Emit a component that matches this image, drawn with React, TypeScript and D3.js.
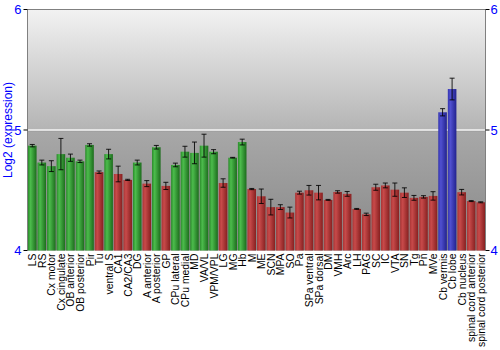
import React from "react";
import * as d3 from "d3";

const categories = ["LS","RS","Cx motor","Cx cingulate","OB anterior","OB posterior","Pir","Tu","ventral S","CA1","CA2/CA3","DG","A anterior","A posterior","GP","CPu lateral","CPu medial","MD","VA/VL","VPM/VPL","LG","MG","Hb","M","ME","SCN","MPA","SO","Pa","SPa ventral","SPa dorsal","DM","VMH","Arc","LH","PAG","SC","IC","VTA","SN","Tg","Pn","MVe","Cb vermis","Cb lobe","Cb nucleus","spinal cord anterior","spinal cord posterior"];
const values = [4.87,4.73,4.70,4.80,4.77,4.74,4.876,4.65,4.80,4.635,4.586,4.73,4.555,4.857,4.536,4.71,4.82,4.81,4.87,4.82,4.56,4.77,4.90,4.51,4.45,4.36,4.36,4.315,4.48,4.50,4.48,4.42,4.486,4.47,4.345,4.30,4.525,4.54,4.505,4.48,4.437,4.445,4.453,5.147,5.34,4.484,4.41,4.40];
const errors = [0.01,0.02,0.045,0.13,0.03,0.01,0.01,0.01,0.04,0.065,0.005,0.02,0.025,0.015,0.03,0.015,0.045,0.09,0.095,0.017,0.035,0.003,0.024,0.005,0.06,0.065,0.02,0.045,0.012,0.04,0.06,0.004,0.01,0.02,0.004,0.01,0.025,0.02,0.055,0.04,0.02,0.01,0.035,0.03,0.09,0.023,0.004,0.004];
const groups = ["g","g","g","g","g","g","g","r","g","r","r","g","r","g","r","g","g","g","g","g","r","g","g","r","r","r","r","r","r","r","r","r","r","r","r","r","r","r","r","r","r","r","r","b","b","r","r","r"];
const yTicks = [4, 5, 6];

const W = 500, H = 350;
const left = 27.5, right = 485.5, top = 9.5, bottom = 250.5;

export default function App() {
  const x = d3.scaleBand<string>().domain(categories).range([left, right]).paddingInner(0.1).paddingOuter(0.05);
  const y = d3.scaleLinear().domain([4, 6]).range([bottom, top]);
  const bw = x.bandwidth();
  const fill: Record<string, string> = { g: "url(#gGreen)", r: "url(#gRed)", b: "url(#gBlue)" };
  return (
    <svg width={W} height={H} style={{ position: "absolute", left: 0, top: 0 }} fontFamily="'Liberation Sans', Arial, sans-serif">
      <defs>
        <linearGradient id="bgTop" x1="0" y1="0" x2="0" y2="1">
          <stop offset="0" stopColor="#f2f2f2" />
          <stop offset="1" stopColor="#b4b4b4" />
        </linearGradient>
        <linearGradient id="bgBot" x1="0" y1="0" x2="0" y2="1">
          <stop offset="0" stopColor="#a8a8a8" />
          <stop offset="1" stopColor="#888888" />
        </linearGradient>
        <linearGradient id="gGreen" x1="0" y1="0" x2="1" y2="0">
          <stop offset="0" stopColor="#2a8a2a" />
          <stop offset="0.3" stopColor="#4cbc4c" />
          <stop offset="1" stopColor="#1c6c1c" />
        </linearGradient>
        <linearGradient id="gRed" x1="0" y1="0" x2="1" y2="0">
          <stop offset="0" stopColor="#a83434" />
          <stop offset="0.3" stopColor="#c84a4a" />
          <stop offset="1" stopColor="#862020" />
        </linearGradient>
        <linearGradient id="gBlue" x1="0" y1="0" x2="1" y2="0">
          <stop offset="0" stopColor="#3434b0" />
          <stop offset="0.3" stopColor="#5050d0" />
          <stop offset="1" stopColor="#22228e" />
        </linearGradient>
      </defs>
      <rect x={left} y={y(6)} width={right - left} height={y(5) - y(6)} fill="url(#bgTop)" />
      <rect x={left} y={y(5)} width={right - left} height={y(4) - y(5)} fill="url(#bgBot)" />
      <line x1={left} x2={right} y1={y(5) + 1} y2={y(5) + 1} stroke="#999" strokeWidth={1} />
      <line x1={left} x2={right} y1={y(5)} y2={y(5)} stroke="#f4f4f4" strokeWidth={1.5} />
      {categories.map((c, i) => {
        const x0 = x(c)!;
        const cx = x0 + bw / 2;
        return (
          <g key={c}>
            <rect x={x0} y={y(values[i])} width={bw} height={bottom - y(values[i])} fill={fill[groups[i]]} />
            <line x1={cx} x2={cx} y1={y(values[i] + errors[i])} y2={y(values[i] - errors[i])} stroke="#000" strokeOpacity={0.85} />
            <line x1={cx - 2.5} x2={cx + 2.5} y1={y(values[i] + errors[i])} y2={y(values[i] + errors[i])} stroke="#000" strokeOpacity={0.85} />
            <line x1={cx - 2.5} x2={cx + 2.5} y1={y(values[i] - errors[i])} y2={y(values[i] - errors[i])} stroke="#000" strokeOpacity={0.85} />
          </g>
        );
      })}
      <line x1={left} x2={right} y1={top} y2={top} stroke="#808080" />
      <line x1={left} x2={left} y1={top} y2={bottom} stroke="#808080" />
      <line x1={right} x2={right} y1={top} y2={bottom} stroke="#808080" />
      {yTicks.map((t) => (
        <g key={t}>
          <line x1={left - 4} x2={left} y1={y(t)} y2={y(t)} stroke="#000" />
          <line x1={right} x2={right + 4} y1={y(t)} y2={y(t)} stroke="#000" />
          <text x={left - 6} y={y(t)} dy="0.36em" textAnchor="end" fill="#0000ff" fontSize={13}>{t}</text>
          <text x={right + 5} y={y(t)} dy="0.36em" textAnchor="start" fill="#0000ff" fontSize={13}>{t}</text>
        </g>
      ))}
      <text transform={`translate(12,${(top + bottom) / 2}) rotate(-90)`} textAnchor="middle" fill="#0000ff" fontSize={12}>Log2 (expression)</text>
      {categories.map((c) => {
        const cx = x(c)! + bw / 2;
        return (
          <text key={c} transform={`translate(${cx + 4},${bottom + 3}) rotate(-90)`} textAnchor="end" fontSize={10.4} fill="#000">{c}</text>
        );
      })}
    </svg>
  );
}
